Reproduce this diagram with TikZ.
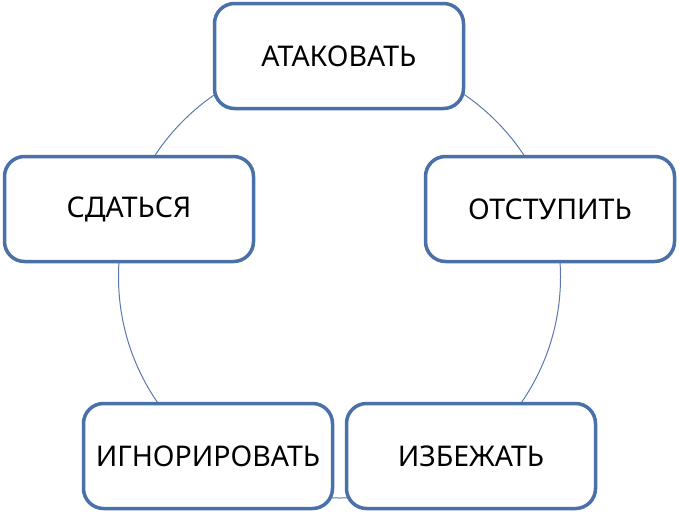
\documentclass[tikz,border=0pt]{standalone}
\usepackage{fontspec}
\setmainfont{Noto Sans}
\definecolor{boxblue}{RGB}{74,112,168}
\definecolor{ringblue}{RGB}{90,120,175}
\begin{document}
\begin{tikzpicture}[x=1pt,y=-1pt,
  opt/.style={draw=boxblue,line width=3.5pt,fill=white,rounded corners=20pt,
    minimum width=249pt,minimum height=105pt,inner sep=0pt,font=\fontsize{28.5}{32}\selectfont}]
\useasboundingbox (0,0) rectangle (679,515);
\coordinate (c) at (339.5,277);
\draw[ringblue,line width=1pt] (c) circle (221);
\node[opt] (a) at (339,56) {АТАКОВАТЬ};
\node[opt] (o) at (550,209) {ОТСТУПИТЬ};
\node[opt] (s) at (129,209) {СДАТЬСЯ};
\node[opt] (i) at (208,456) {ИГНОРИРОВАТЬ};
\node[opt] (z) at (471,456) {ИЗБЕЖАТЬ};
\end{tikzpicture}
\end{document}
